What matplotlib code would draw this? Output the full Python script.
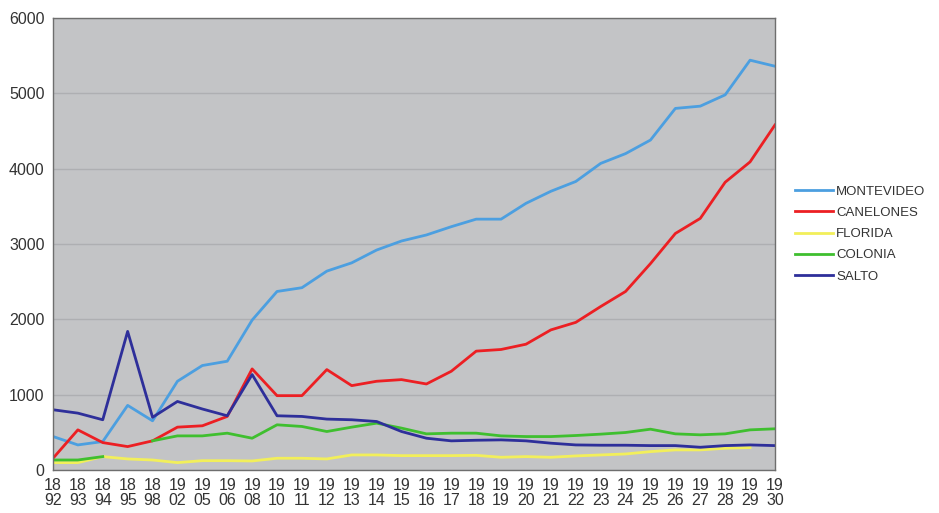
import numpy as np
import matplotlib.pyplot as plt

years = ['1892', '1893', '1894', '1895', '1898', '1902', '1905', '1906', '1908', '1910',
         '1911', '1912', '1913', '1914', '1915', '1916', '1917', '1918', '1919', '1920',
         '1921', '1922', '1923', '1924', '1925', '1926', '1927', '1928', '1929', '1930']

montevideo = [445, 333, 378, 858, 653, 1178, 1387, 1444, 1990, 2370,
              2420, 2640, 2750, 2920, 3040, 3120, 3230, 3330, 3330, 3540,
              3700, 3830, 4070, 4200, 4380, 4800, 4830, 4980, 5440, 5360]
canelones = [155, 533, 364, 311, 387, 569, 587, 711, 1342, 987,
             987, 1333, 1120, 1178, 1200, 1142, 1311, 1578, 1600, 1670,
             1860, 1960, 2170, 2370, 2740, 3140, 3340, 3820, 4090, 4580]
florida = [98, 98, 178, 147, 133, 98, 124, 124, 120, 156,
           156, 147, 200, 200, 191, 191, 191, 195, 169, 178,
           169, 187, 200, 213, 244, 267, 267, 289, 298, np.nan]
colonia = [133, 133, 178, np.nan, 387, 453, 453, 489, 422, 600,
           578, 511, 569, 622, 556, 480, 489, 489, 453, 444,
           444, 458, 476, 498, 542, 480, 467, 480, 533, 547]
salto = [800, 755, 667, 1840, 700, 910, 810, 720, 1267, 720,
         711, 676, 667, 644, 511, 422, 387, 395, 400, 387,
         356, 333, 329, 329, 324, 324, 302, 324, 333, 324]

series = [
    ('MONTEVIDEO', montevideo, '#4c9fe0'),
    ('CANELONES', canelones, '#ec1f23'),
    ('FLORIDA', florida, '#f2ef5a'),
    ('COLONIA', colonia, '#3fbf2f'),
    ('SALTO', salto, '#2e2f9a'),
]

plt.rcParams['font.family'] = ['Liberation Sans', 'DejaVu Sans']

fig = plt.figure(figsize=(9.39, 5.13), dpi=100)
ax = fig.add_axes([0.0564, 0.0838, 0.7689, 0.8811])
ax.set_facecolor('#c3c4c6')

x = np.arange(len(years))
for name, vals, color in series:
    ax.plot(x, vals, color=color, linewidth=2, label=name)

ax.set_xlim(0, len(years) - 1)
ax.set_ylim(0, 6000)
ax.set_yticks(range(0, 6001, 1000))
ax.set_xticks(x)
ax.set_xticklabels([y[:2] + '\n' + y[2:] for y in years], fontsize=11.5, color='#333333',
                   linespacing=1.0)
ax.tick_params(axis='y', labelsize=11.5, colors='#333333', length=0, pad=6)
ax.tick_params(axis='x', length=0, pad=6)
ax.grid(axis='y', color='#aeafb2', linewidth=1)
ax.set_axisbelow(True)
for s in ax.spines.values():
    s.set_color('#6e6e6e')
    s.set_linewidth(1)

leg = ax.legend(loc='center left', bbox_to_anchor=(1.011, 0.522), frameon=False, fontsize=9.5,
                handlelength=2.9, handletextpad=0.25, labelspacing=0.68)
for t in leg.get_texts():
    t.set_color('#333333')

fig.savefig('out.png', dpi=100, facecolor='white')
